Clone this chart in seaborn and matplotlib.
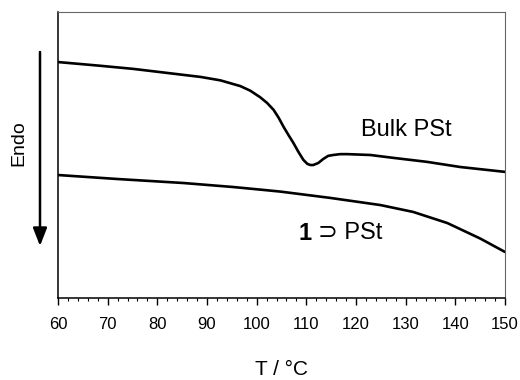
import numpy as np
import pandas as pd
import matplotlib
matplotlib.use("Agg")
import matplotlib.pyplot as plt
import seaborn as sns

# DSC traces (y in arbitrary heat-flow units, endo down)
bulk_T = [60.0, 68.5, 75.2, 88.7, 92.7, 96.7, 98.7, 100.7, 102.1, 103.4, 104.4,
          105.4, 106.4, 107.4, 108.4, 109.4, 110.2, 110.8, 111.4, 112.4, 113.4,
          114.4, 115.4, 116.8, 118.3, 122.9, 127.5, 134.3, 141.0, 150.0]
bulk_hf = [8.25, 8.12, 8.01, 7.73, 7.61, 7.41, 7.25, 7.02, 6.82, 6.58, 6.31,
           5.99, 5.70, 5.42, 5.11, 4.83, 4.69, 4.65, 4.65, 4.72, 4.86,
           4.97, 5.00, 5.03, 5.03, 5.00, 4.90, 4.76, 4.58, 4.41]

incl_T = [60.0, 72.0, 85.3, 95.3, 101.3, 104.8, 114.8, 124.9, 131.5, 138.4, 145.0, 150.0]
incl_hf = [4.30, 4.16, 4.02, 3.88, 3.78, 3.72, 3.50, 3.25, 3.01, 2.62, 2.08, 1.61]

x_ticks = [60, 70, 80, 90, 100, 110, 120, 130, 140, 150]

sns.set_theme(style="ticks")
plt.rcParams['font.family'] = ['Liberation Sans', 'DejaVu Sans']
plt.rcParams['text.color'] = 'black'
plt.rcParams['axes.labelcolor'] = 'black'
plt.rcParams['xtick.color'] = 'black'

fig = plt.figure(figsize=(5.2, 3.8), dpi=100)
ax = fig.add_axes([58 / 520, 1 - 298 / 380, (505 - 58) / 520, (298 - 12) / 380])

sns.lineplot(x=bulk_T, y=bulk_hf, ax=ax, color='black', lw=1.9, sort=False)
sns.lineplot(x=incl_T, y=incl_hf, ax=ax, color='black', lw=1.9, sort=False)

ax.set_xlim(60, 150)
ax.set_ylim(0, 10)
ax.set_xticks(x_ticks)
ax.set_xticks(np.arange(60, 151, 2), minor=True)
ax.set_yticks([])
ax.tick_params(axis='x', which='major', direction='out', length=5, width=1.0,
               labelsize=12, pad=9, color='black', labelcolor='black')
ax.tick_params(axis='x', which='minor', direction='out', length=2, width=0.8, color='black')

for side in ['left', 'bottom']:
    ax.spines[side].set_color('black')
    ax.spines[side].set_linewidth(1.1)
for side in ['top', 'right']:
    ax.spines[side].set_color('#666666')
    ax.spines[side].set_linewidth(0.8)

ax.set_xlabel('T / °C', fontsize=15, labelpad=20, color='black')
ax.set_ylabel('')

ax.text(130.1, 5.87, 'Bulk PSt', fontsize=17, ha='center', va='center', color='black')
ax.text(111.0, 2.27, '1', fontsize=17, fontweight='bold', ha='right', va='center', color='black')
ax.text(112.4, 2.27, '⊃ PSt', fontsize=17, ha='left', va='center', color='black')

# "Endo" label with downward arrow
fig.text(19 / 520, 1 - 143 / 380, 'Endo', fontsize=14, rotation=90, ha='center', va='center',
         color='black')
ax.annotate('', xy=(40 / 520, 1 - 246 / 380), xytext=(40 / 520, 1 - 52 / 380),
            xycoords='figure fraction', textcoords='figure fraction',
            arrowprops=dict(arrowstyle='-|>,head_length=0.9,head_width=0.35',
                            lw=1.8, color='black', shrinkA=0, shrinkB=0),
            annotation_clip=False)

fig.savefig('out.png', dpi=100)
